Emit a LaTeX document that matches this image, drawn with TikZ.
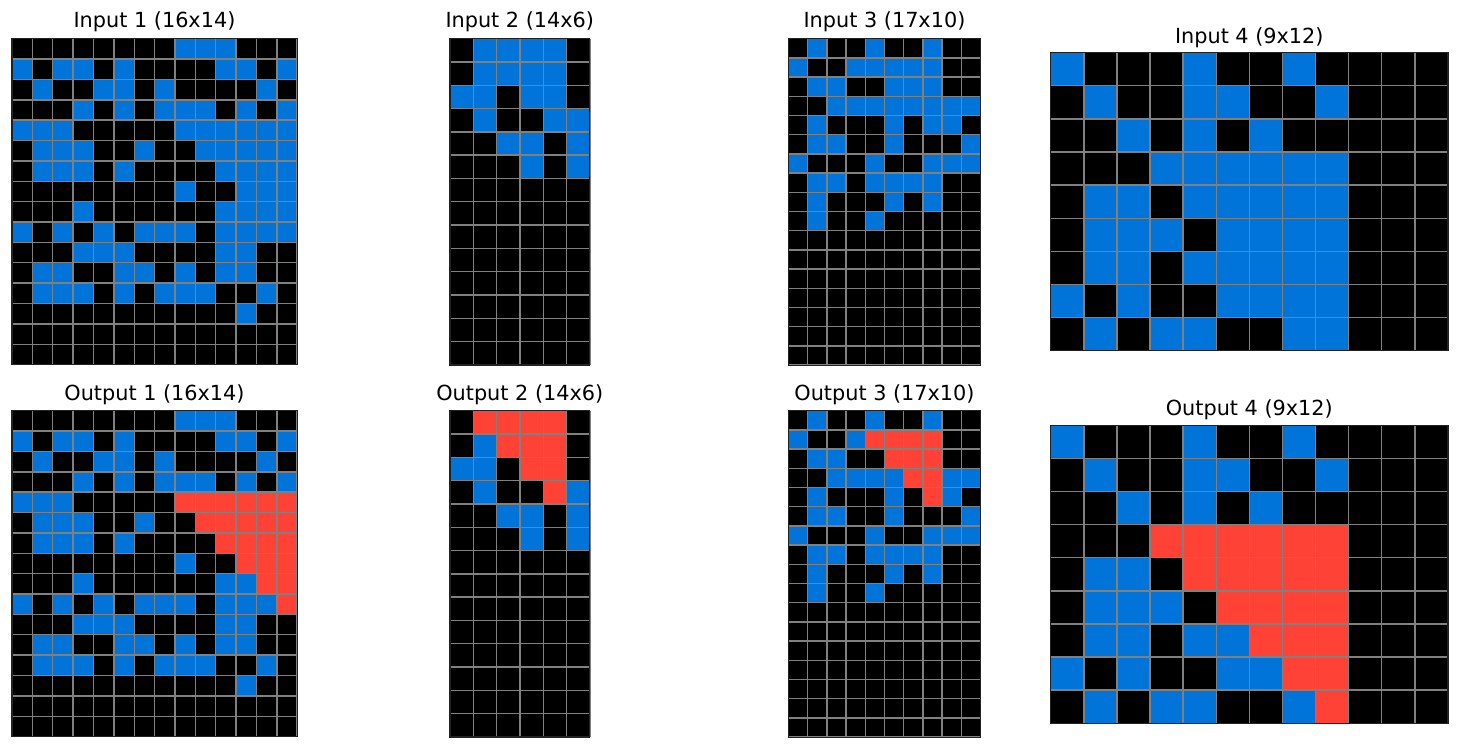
\documentclass[tikz,border=0pt]{standalone}
\usepackage{fontspec}
\setmainfont{DejaVu Sans}
\definecolor{arcblue}{HTML}{0074D9}
\definecolor{arcred}{HTML}{FF4136}
\definecolor{gline}{HTML}{808080}
\definecolor{gborder}{HTML}{222222}
\newcommand\arcgrid[6]{%
 \begin{scope}[shift={(#1pt,-#2pt)}, x=#3pt, y=-#3pt]
  \foreach \row [count=\r from 0] in {#6} {
    \foreach \v [count=\c from 0] in \row {
      \ifcase\v\relax \def\cc{black}\or \def\cc{arcblue}\or \def\cc{arcred}\fi
      \fill[\cc] (\c,\r) rectangle ++(1,1);
    }
  }
  \foreach \i in {1,...,#4} \draw[gridln] (\i,0) -- (\i,#5);
  \foreach \j in {1,...,#5} \draw[gridln] (0,\j) -- (#4,\j);
  \draw[gridbd] (0,0) rectangle (#4,#5);
 \end{scope}}
\tikzset{
  gridln/.style={draw=gline, line width=1.4pt},
  gridbd/.style={draw=gborder, line width=1.2pt},
  ttl/.style={anchor=base, inner sep=0pt, font=\fontsize{20.8}{25}\selectfont}
}
\begin{document}
\begin{tikzpicture}
\useasboundingbox[fill=white] (0,0) rectangle (1460pt,-749pt);
% Titles
\node[ttl] (t1) at (154.5pt,-27.7pt) {Input 1 (16x14)};
\node[ttl] (t2) at (519.8pt,-27.7pt) {Input 2 (14x6)};
\node[ttl] (t3) at (884.5pt,-27.7pt) {Input 3 (17x10)};
\node[ttl] (t4) at (1249.3pt,-43.8pt) {Input 4 (9x12)};
\node[ttl] (o1) at (154.5pt,-400.2pt) {Output 1 (16x14)};
\node[ttl] (o2) at (519.8pt,-400.2pt) {Output 2 (14x6)};
\node[ttl] (o3) at (884.5pt,-400.2pt) {Output 3 (17x10)};
\node[ttl] (o4) at (1249.3pt,-415.5pt) {Output 4 (9x12)};
% Input 1
\arcgrid{12}{38.7}{20.37}{14}{16}{
{0,0,0,0,0,0,0,0,1,1,1,0,0,0},
{1,0,1,1,0,1,0,0,0,0,1,1,0,1},
{0,1,0,0,1,1,0,1,0,0,0,0,1,0},
{0,0,0,1,0,1,0,1,1,1,0,1,0,1},
{1,1,1,0,0,0,0,0,1,1,1,1,1,1},
{0,1,1,1,0,0,1,0,0,1,1,1,1,1},
{0,1,1,1,0,1,0,0,0,0,1,1,1,1},
{0,0,0,0,0,0,0,0,1,0,0,1,1,1},
{0,0,0,1,0,0,0,0,0,0,1,1,1,1},
{1,0,1,0,1,0,1,1,1,0,1,1,1,1},
{0,0,0,1,1,1,0,0,0,0,1,1,0,0},
{0,1,1,0,0,1,1,0,1,0,1,1,0,0},
{0,1,1,1,0,1,0,1,1,1,0,0,1,0},
{0,0,0,0,0,0,0,0,0,0,0,1,0,0},
{0,0,0,0,0,0,0,0,0,0,0,0,0,0},
{0,0,0,0,0,0,0,0,0,0,0,0,0,0}}
% Output 1
\arcgrid{12}{410.7}{20.37}{14}{16}{
{0,0,0,0,0,0,0,0,1,1,1,0,0,0},
{1,0,1,1,0,1,0,0,0,0,1,1,0,1},
{0,1,0,0,1,1,0,1,0,0,0,0,1,0},
{0,0,0,1,0,1,0,1,1,1,0,1,0,1},
{1,1,1,0,0,0,0,0,2,2,2,2,2,2},
{0,1,1,1,0,0,1,0,0,2,2,2,2,2},
{0,1,1,1,0,1,0,0,0,0,2,2,2,2},
{0,0,0,0,0,0,0,0,1,0,0,2,2,2},
{0,0,0,1,0,0,0,0,0,0,1,1,2,2},
{1,0,1,0,1,0,1,1,1,0,1,1,1,2},
{0,0,0,1,1,1,0,0,0,0,1,1,0,0},
{0,1,1,0,0,1,1,0,1,0,1,1,0,0},
{0,1,1,1,0,1,0,1,1,1,0,0,1,0},
{0,0,0,0,0,0,0,0,0,0,0,1,0,0},
{0,0,0,0,0,0,0,0,0,0,0,0,0,0},
{0,0,0,0,0,0,0,0,0,0,0,0,0,0}}
% Input 2
\arcgrid{450}{38.7}{23.3}{6}{14}{
{0,1,1,1,1,0},
{0,1,1,1,1,0},
{1,1,0,1,1,0},
{0,1,0,0,1,1},
{0,0,1,1,0,1},
{0,0,0,1,0,1},
{0,0,0,0,0,0},{0,0,0,0,0,0},{0,0,0,0,0,0},{0,0,0,0,0,0},
{0,0,0,0,0,0},{0,0,0,0,0,0},{0,0,0,0,0,0},{0,0,0,0,0,0}}
% Output 2
\arcgrid{450}{410.7}{23.3}{6}{14}{
{0,2,2,2,2,0},
{0,1,2,2,2,0},
{1,1,0,2,2,0},
{0,1,0,0,2,1},
{0,0,1,1,0,1},
{0,0,0,1,0,1},
{0,0,0,0,0,0},{0,0,0,0,0,0},{0,0,0,0,0,0},{0,0,0,0,0,0},
{0,0,0,0,0,0},{0,0,0,0,0,0},{0,0,0,0,0,0},{0,0,0,0,0,0}}
% Input 3
\arcgrid{788.5}{38.7}{19.2}{10}{17}{
{0,1,0,0,1,0,0,1,0,0},
{1,0,0,1,1,1,1,1,0,0},
{0,1,1,0,0,1,1,1,0,0},
{0,0,1,1,1,1,1,1,1,1},
{0,1,0,0,0,1,0,1,1,0},
{0,1,1,0,0,1,0,0,0,1},
{1,0,0,0,1,0,0,1,1,1},
{0,1,1,0,1,1,1,1,0,0},
{0,1,0,0,0,1,0,1,0,0},
{0,1,0,0,1,0,0,0,0,0},
{0,0,0,0,0,0,0,0,0,0},{0,0,0,0,0,0,0,0,0,0},{0,0,0,0,0,0,0,0,0,0},
{0,0,0,0,0,0,0,0,0,0},{0,0,0,0,0,0,0,0,0,0},{0,0,0,0,0,0,0,0,0,0},
{0,0,0,0,0,0,0,0,0,0}}
% Output 3
\arcgrid{788.5}{410.7}{19.2}{10}{17}{
{0,1,0,0,1,0,0,1,0,0},
{1,0,0,1,2,2,2,2,0,0},
{0,1,1,0,0,2,2,2,0,0},
{0,0,1,1,1,1,2,2,1,1},
{0,1,0,0,0,1,0,2,1,0},
{0,1,1,0,0,1,0,0,0,1},
{1,0,0,0,1,0,0,1,1,1},
{0,1,1,0,1,1,1,1,0,0},
{0,1,0,0,0,1,0,1,0,0},
{0,1,0,0,1,0,0,0,0,0},
{0,0,0,0,0,0,0,0,0,0},{0,0,0,0,0,0,0,0,0,0},{0,0,0,0,0,0,0,0,0,0},
{0,0,0,0,0,0,0,0,0,0},{0,0,0,0,0,0,0,0,0,0},{0,0,0,0,0,0,0,0,0,0},
{0,0,0,0,0,0,0,0,0,0}}
% Input 4
\arcgrid{1050.7}{52.7}{33.1}{12}{9}{
{1,0,0,0,1,0,0,1,0,0,0,0},
{0,1,0,0,1,1,0,0,1,0,0,0},
{0,0,1,0,1,0,1,0,0,0,0,0},
{0,0,0,1,1,1,1,1,1,0,0,0},
{0,1,1,0,1,1,1,1,1,0,0,0},
{0,1,1,1,0,1,1,1,1,0,0,0},
{0,1,1,0,1,1,1,1,1,0,0,0},
{1,0,1,0,0,1,1,1,1,0,0,0},
{0,1,0,1,1,0,0,1,1,0,0,0}}
% Output 4
\arcgrid{1050.7}{425.3}{33.1}{12}{9}{
{1,0,0,0,1,0,0,1,0,0,0,0},
{0,1,0,0,1,1,0,0,1,0,0,0},
{0,0,1,0,1,0,1,0,0,0,0,0},
{0,0,0,2,2,2,2,2,2,0,0,0},
{0,1,1,0,2,2,2,2,2,0,0,0},
{0,1,1,1,0,2,2,2,2,0,0,0},
{0,1,1,0,1,1,2,2,2,0,0,0},
{1,0,1,0,0,1,1,2,2,0,0,0},
{0,1,0,1,1,0,0,1,2,0,0,0}}
\end{tikzpicture}
\end{document}
